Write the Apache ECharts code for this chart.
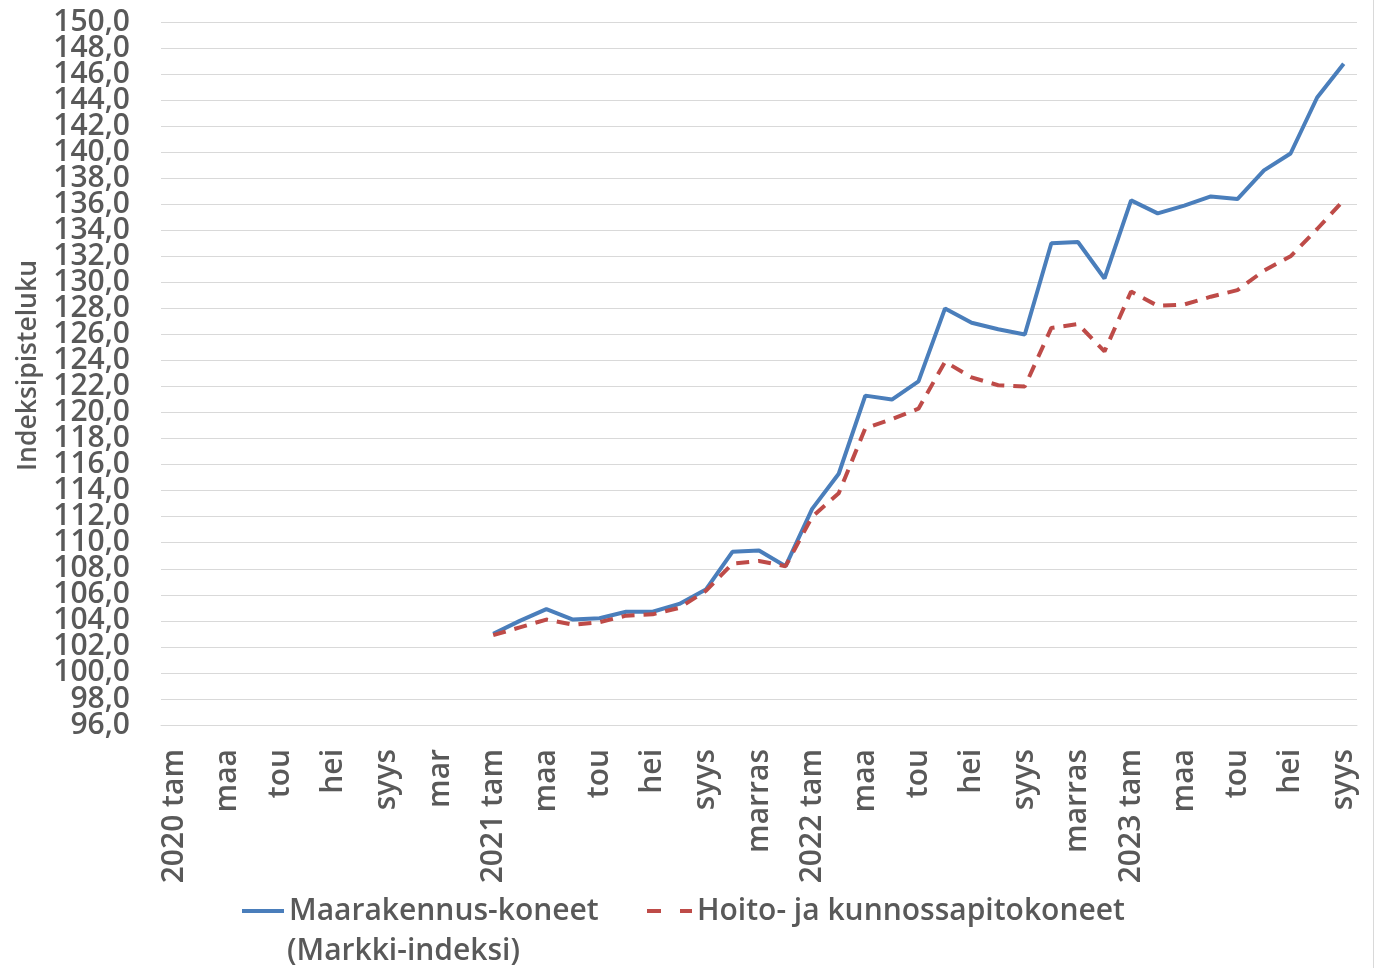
<!DOCTYPE html>
<html>
<head>
<meta charset="utf-8">
<title>Indeksipisteluku</title>
<script src="https://cdn.jsdelivr.net/npm/echarts@6/dist/echarts.min.js"></script>
<style>
  html, body { margin: 0; padding: 0; background: #fff; }
  #chart { width: 1381px; height: 968px; }
</style>
</head>
<body>
<div id="chart"></div>
<script>
// kuukaudet 2020 tam - 2023 syys
const categories = [
  '2020 tam', 'hel', 'maa', 'huh', 'tou', 'kes', 'hei', 'elo', 'syys', 'lok', 'mar', 'jou',
  '2021 tam', 'hel', 'maa', 'huh', 'tou', 'kes', 'hei', 'elo', 'syys', 'loka', 'marras', 'joulu',
  '2022 tam', 'hel', 'maa', 'huh', 'tou', 'kes', 'hei', 'elo', 'syys', 'loka', 'marras', 'joulu',
  '2023 tam', 'hel', 'maa', 'huh', 'tou', 'kes', 'hei', 'elo', 'syys'
]

// 2020 ei arvoja
const empty2020 = [null, null, null, null, null, null, null, null, null, null, null, null]

const maarakennus = empty2020.concat([
  103.0, 104.0, 104.9, 104.1, 104.2, 104.7, 104.7, 105.3, 106.4, 109.3, 109.4, 108.2,
  112.6, 115.3, 121.3, 121.0, 122.4, 128.0, 126.9, 126.4, 126.0, 133.0, 133.1, 130.3,
  136.3, 135.3, 135.9, 136.6, 136.4, 138.6, 139.9, 144.2, 146.8
])

const hoito = empty2020.concat([
  102.9, 103.5, 104.1, 103.7, 103.9, 104.4, 104.5, 105.0, 106.3, 108.4, 108.6, 108.2,
  112.0, 113.8, 118.8, 119.5, 120.3, 123.9, 122.7, 122.1, 122.0, 126.5, 126.8, 124.7,
  129.3, 128.2, 128.3, 128.9, 129.4, 130.9, 132.0, 134.1, 136.3
])

const yMin = 96
const yMax = 150

const nameMaa = 'Maarakennus-koneet'
const nameMaa2 = '(Markki-indeksi)'
const nameHoito = 'Hoito- ja kunnossapitokoneet'

const textColor = '#595959'
const fontFamily = "'Open Sans', 'Liberation Sans', sans-serif"

function fmt(v) {
  return v.toFixed(1).replace('.', ',')
}

const labelStyle = {
  margin: 31,
  color: textColor,
  fontSize: 30,
  fontWeight: 600
}

const chart = echarts.init(document.getElementById('chart'))

chart.setOption({
  animation: false,
  textStyle: { fontFamily: fontFamily },
  grid: {
    left: 161,
    right: 24,
    top: 22,
    bottom: 243
  },
  legend: [
    {
      left: 240,
      top: 896,
      padding: 0,
      itemWidth: 42,
      itemHeight: 14,
      itemStyle: { opacity: 0 },
      lineStyle: { width: 4 },
      data: [nameMaa],
      textStyle: { color: textColor, fontSize: 30, fontWeight: 600 }
    },
    {
      left: 645,
      top: 896,
      padding: 0,
      itemWidth: 45,
      itemHeight: 14,
      itemStyle: { opacity: 0 },
      lineStyle: { width: 4, type: [14, 19] },
      data: [nameHoito],
      textStyle: { color: textColor, fontSize: 30, fontWeight: 600 }
    }
  ],
  xAxis: {
    type: 'category',
    data: categories,
    boundaryGap: true,
    axisLine: { show: true, lineStyle: { color: '#d9d9d9', width: 1 } },
    axisTick: { show: false },
    axisLabel: {
      interval: 1,
      rotate: 90,
      margin: 24,
      color: textColor,
      fontSize: 30,
      fontWeight: 600
    },
    splitLine: { show: false }
  },
  yAxis: [
    {
      type: 'value',
      min: yMin,
      max: yMax,
      interval: 2,
      name: 'Indeksipisteluku',
      nameLocation: 'middle',
      nameRotate: 90,
      nameGap: 118,
      nameTextStyle: {
        color: textColor,
        fontSize: 26.5,
        fontWeight: 600,
        padding: [0, 0, 0, 16]
      },
      axisLine: { show: false },
      axisTick: { show: false },
      axisLabel: Object.assign({}, labelStyle, {
        showMinLabel: false,
        showMaxLabel: false,
        formatter: fmt
      }),
      splitLine: { lineStyle: { color: '#d9d9d9', width: 1 } }
    },
    {
      // vain ala- ja yläraja
      type: 'value',
      position: 'left',
      min: yMin,
      max: yMax,
      interval: 2,
      axisLine: { show: false },
      axisTick: { show: false },
      splitLine: { show: false },
      axisLabel: Object.assign({}, labelStyle, {
        showMinLabel: true,
        showMaxLabel: true,
        formatter: function (v) {
          return (v === yMin || v === yMax) ? fmt(v) : ''
        }
      })
    }
  ],
  graphic: [
    {
      type: 'text',
      left: 287,
      top: 936,
      silent: true,
      style: {
        text: nameMaa2,
        fill: textColor,
        font: "600 30px 'Open Sans', 'Liberation Sans', sans-serif"
      }
    },
    {
      type: 'line',
      shape: { x1: 1373.5, y1: 0, x2: 1373.5, y2: 968 },
      style: { stroke: '#d9d9d9', lineWidth: 1 },
      silent: true
    }
  ],
  series: [
    {
      name: nameMaa,
      type: 'line',
      data: maarakennus,
      symbol: 'none',
      lineStyle: { color: '#4a7ebb', width: 4 },
      itemStyle: { color: '#4a7ebb' }
    },
    {
      name: nameHoito,
      type: 'line',
      data: hoito,
      symbol: 'none',
      lineStyle: { color: '#be4b48', width: 4, type: [13, 9] },
      itemStyle: { color: '#be4b48' }
    }
  ]
})
</script>
</body>
</html>
